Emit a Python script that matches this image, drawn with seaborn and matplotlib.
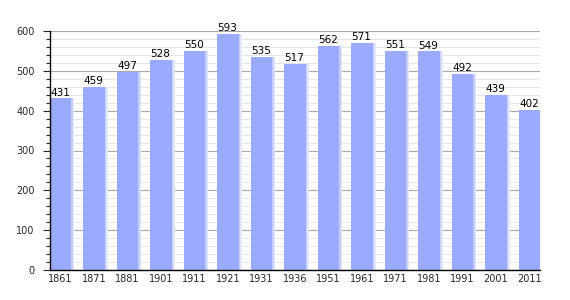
import matplotlib
matplotlib.use("Agg")
import matplotlib.pyplot as plt
import seaborn as sns
import pandas as pd
from matplotlib.ticker import MultipleLocator

years = ["1861", "1871", "1881", "1901", "1911", "1921", "1931", "1936",
         "1951", "1961", "1971", "1981", "1991", "2001", "2011"]
population = [431, 459, 497, 528, 550, 593, 535, 517, 562, 571, 551, 549, 492, 439, 402]

df = pd.DataFrame({"year": years, "pop": population})

sns.set_style("white")
plt.rcParams['font.family'] = ['DejaVu Sans']

fig = plt.figure(figsize=(5.7, 3.0), dpi=100)
ax = fig.add_axes([50/570, 30/300, 490/570, 239/300])

W = 0.627
# soft glow on right edge of bars
glow = [("#c4cffd", 0.045), ("#e2e7fe", 0.09)]
for col, extra in reversed(glow):
    sns.barplot(data=df, x="year", y="pop", order=years, color=col,
                width=W, saturation=1, ax=ax, zorder=2, errorbar=None,
                linewidth=0)
    k = len(years)
    for p in ax.patches[-k:]:
        p.set_x(p.get_x() + extra)
sns.barplot(data=df, x="year", y="pop", order=years, color="#99aaff",
            width=W, saturation=1, ax=ax, zorder=3, errorbar=None, linewidth=0)

for i, v in enumerate(population):
    ax.text(i - W/2, v + 2, str(v), ha="left", va="bottom", fontsize=7.5,
            color="black", zorder=5)

ax.set_xlim(-W/2, len(years) - 1 + W/2)
ax.set_ylim(0, 600)
ax.yaxis.set_major_locator(MultipleLocator(100))
ax.yaxis.set_minor_locator(MultipleLocator(20))
ax.grid(axis="y", which="major", color="#a8a8a8", linewidth=0.8, zorder=0)
ax.grid(axis="y", which="minor", color="#e0e0e0", linewidth=0.6, zorder=0)
ax.set_axisbelow(True)

ax.set_xlabel("")
ax.set_ylabel("")
for s in ["top", "right"]:
    ax.spines[s].set_visible(False)
ax.spines["left"].set_color("black")
ax.spines["bottom"].set_color("black")
ax.spines["left"].set_linewidth(1)
ax.spines["bottom"].set_linewidth(1)
ax.spines["left"].set_zorder(6)
ax.spines["bottom"].set_zorder(6)

ax.tick_params(axis="y", which="major", direction="out", length=5, width=0.8,
               labelsize=7, pad=6, left=True)
ax.tick_params(axis="y", which="minor", direction="out", length=3, width=0.8, left=True)
ax.tick_params(axis="x", which="both", length=0, labelsize=7, pad=3)

fig.savefig("out.png", dpi=100)
